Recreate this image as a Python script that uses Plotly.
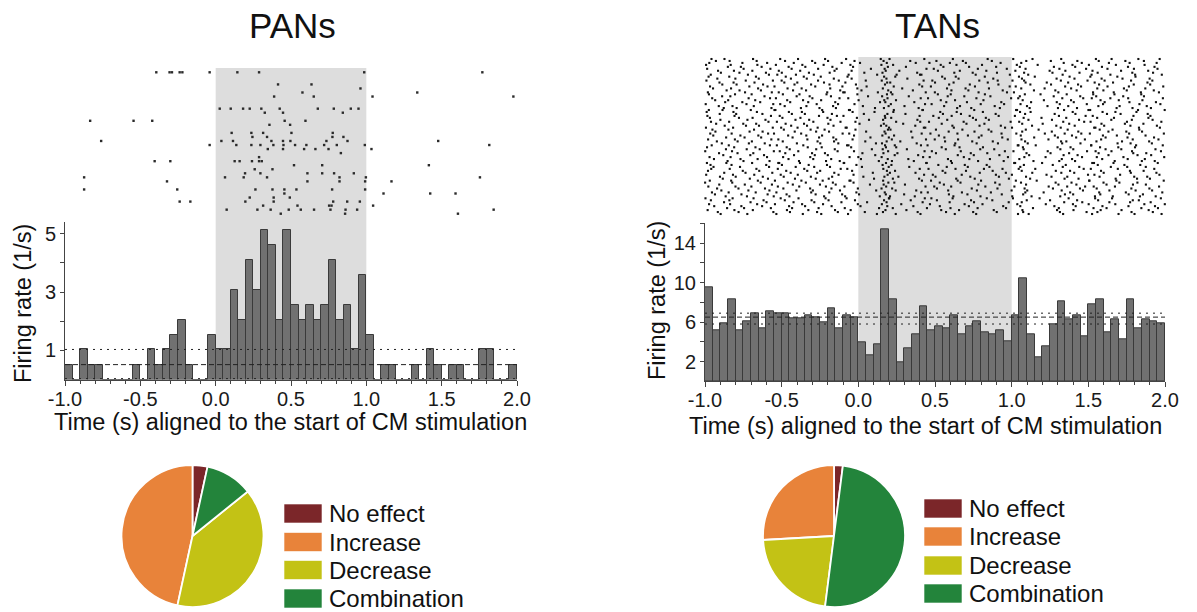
import numpy as np
import plotly.graph_objects as go

W, H = 1197, 612
FONT = "Liberation Sans, Arial, sans-serif"

# ---------------- data ----------------
bin_width = 0.05
bin_starts = np.round(np.arange(-1.0, 2.0 - 1e-9, bin_width), 3)   # 60 bins, -1.0 .. 1.95

pan_rates = [0.51, 0, 1.03, 0.51, 0.51, 0, 0, 0, 0, 0.51,
             0, 1.03, 0.51, 1.03, 1.54, 2.05, 0.51, 0, 0, 1.54,
             1.03, 1.03, 3.08, 2.05, 4.10, 3.08, 5.13, 4.62, 2.05, 5.13,
             2.56, 2.05, 2.56, 2.05, 2.56, 4.10, 2.05, 2.56, 1.03, 3.59,
             1.54, 0, 0.51, 0.51, 0, 0, 0.51, 0, 1.03, 0.51,
             0, 0.51, 0.51, 0, 0, 1.03, 1.03, 0, 0, 0.51]

tan_rates = [9.5, 5.2, 5.9, 8.35, 5.2, 6.1, 6.9, 5.4, 7.06, 6.9,
             6.9, 6.35, 6.35, 6.7, 6.5, 5.95, 7.4, 5.4, 6.7, 6.5,
             3.9, 2.6, 3.7, 15.4, 8.35, 1.9, 3.3, 4.8, 7.6, 5.2,
             5.6, 5.4, 6.7, 4.8, 5.6, 6.1, 5.0, 4.8, 5.2, 4.05,
             6.7, 10.4, 4.8, 2.4, 3.5, 5.75, 8.15, 6.3, 6.7, 4.6,
             7.8, 8.35, 5.0, 6.3, 4.25, 8.35, 5.4, 6.3, 6.1, 5.9]

# baseline (lower, mean, upper) lines
pan_baseline = [0.03, 0.51, 1.03]
tan_baseline = [5.8, 6.5, 6.9]

x_ticks = [-1.0, -0.5, 0.0, 0.5, 1.0, 1.5, 2.0]
x_ticktext = ["-1.0", "-0.5", "0.0", "0.5", "1.0", "1.5", "2.0"]
x_minor = [-0.9, -0.8, -0.7, -0.6, -0.4, -0.3, -0.2, -0.1, 0.1, 0.2, 0.3, 0.4,
           0.6, 0.7, 0.8, 0.9, 1.1, 1.2, 1.3, 1.4, 1.6, 1.7, 1.8, 1.9]
pan_yticks = [1, 2, 3, 4, 5]
pan_yticktext = ["1", "", "3", "", "5"]
tan_yticks = [2, 4, 6, 8, 10, 12, 14, 16]
tan_yticktext = ["2", "", "6", "", "10", "", "14", ""]

stim_window = [0.0, 1.0]

# PAN raster: trial rows and spike times (s)
pan_rows = [0, 3, 4, 5, 6, 9, 10, 12, 13, 15, 16, 17, 18, 19, 20, 21, 22, 23, 24,
            25, 26, 27, 29, 30, 31, 32, 33, 34, 35]
pan_spikes = [
    [-0.394, -0.306, -0.290, -0.239, -0.221, -0.040, 0.144, 0.288, 0.986, 1.770],
    [0.414, 0.636],
    [0.961],
    [0.576, 1.338],
    [0.388, 0.651, 1.041, 1.976],
    [0.027, 0.100, 0.182, 0.226, 0.303, 0.425, 0.678, 0.784, 0.897, 0.948],
    [0.326, 0.447, 0.844],
    [-0.833, -0.545, -0.421, 0.458, 0.596],
    [0.357, 0.494],
    [0.106, 0.237, 0.315, 0.503, 0.777],
    [0.244, 0.341, 0.775, 0.848],
    [-0.760, 0.038, 0.115, 0.370, 0.447, 0.496, 0.735, 0.875, 1.477],
    [-0.040, 0.137, 0.237, 0.297, 0.383, 0.450, 0.527, 0.602, 0.720, 0.804, 0.990, 1.816],
    [0.346, 0.447, 0.587, 0.662, 0.749, 1.034],
    [0.831],
    [0.288],
    [-0.405, -0.301, 0.126, 0.159, 0.241, 0.288, 0.306],
    [0.520, 0.707, 1.415],
    [0.259, 0.377],
    [0.195, 0.297, 0.609, 0.707, 0.786, 0.917],
    [-0.873, 0.062, 0.186, 0.341, 0.822, 0.997, 1.754],
    [-0.323, 0.609, 0.822, 0.992, 1.167],
    [-0.873, -0.255, 0.264, 0.377, 0.456, 0.536, 0.773, 0.992],
    [0.456, 1.114, 1.424, 1.592],
    [0.226, 0.385, 0.492],
    [-0.239, -0.168, 0.197, 0.385, 0.780, 0.873, 0.957],
    [0.315, 0.543, 0.753, 0.769, 1.045],
    [0.073, 0.277, 0.365, 0.485, 0.565, 0.653, 0.762, 0.862, 0.939, 1.845],
    [0.432, 0.859, 1.608],
]
pan_n_rows = 36

# TAN raster: dots too dense to transcribe one by one; each bin gets the number
# of spikes implied by its rate (rate * bin * trials), spread evenly over trials
# and within the bin with a deterministic low-discrepancy (Halton) layout.
tan_trials = 80

pie_labels = ["No effect", "Increase", "Decrease", "Combination"]
pie_colors = ["#7B2629", "#E8833A", "#C3C215", "#23843B"]
pan_pie = [3.4, 46.6, 39.2, 10.8]
tan_pie = [2.0, 25.9, 22.1, 50.0]

# ---------------- helpers ----------------
def fx(px):
    return px / W

def fy(py):
    return 1 - py / H

def halton(i, base):
    f, r = 1.0, 0.0
    while i > 0:
        f /= base
        r += f * (i % base)
        i //= base
    return r

# ---------------- figure ----------------
fig = go.Figure()

bin_centers = bin_starts + bin_width / 2
bar_style = dict(marker=dict(color="#717171", line=dict(color="#3a3a3a", width=1)),
                 width=bin_width, showlegend=False, hoverinfo="x+y")

fig.add_trace(go.Bar(x=bin_centers, y=pan_rates, xaxis="x", yaxis="y", **bar_style))
fig.add_trace(go.Bar(x=bin_centers, y=tan_rates, xaxis="x3", yaxis="y3", **bar_style))

dash_styles = ["2px,5px", "5px,3px", "2px,5px"]
for val, d in zip(pan_baseline, dash_styles):
    fig.add_trace(go.Scatter(x=[x_ticks[0], x_ticks[-1]], y=[val, val], mode="lines",
                             line=dict(color="#222", width=1, dash=d),
                             xaxis="x", yaxis="y", showlegend=False, hoverinfo="skip"))
for val, d in zip(tan_baseline, dash_styles):
    fig.add_trace(go.Scatter(x=[x_ticks[0], x_ticks[-1]], y=[val, val], mode="lines",
                             line=dict(color="#222", width=1, dash=d),
                             xaxis="x3", yaxis="y3", showlegend=False, hoverinfo="skip"))

# PAN raster
rx, ry = [], []
for row, spikes in zip(pan_rows, pan_spikes):
    for t in spikes:
        rx.append(t)
        ry.append(row)
fig.add_trace(go.Scatter(x=rx, y=ry, mode="markers", xaxis="x2", yaxis="y2",
                         marker=dict(symbol="square", size=2.4, color="#2a2a2a"),
                         cliponaxis=False, showlegend=False, hoverinfo="x"))

# TAN raster
tx, ty = [], []
k = 0
for start, rate in zip(bin_starts, tan_rates):
    n = int(round(rate * bin_width * tan_trials))
    for j in range(n):
        k += 1
        tx.append(start + bin_width * halton(k, 2))
        ty.append(int(halton(k, 3) * tan_trials))
fig.add_trace(go.Scatter(x=tx, y=ty, mode="markers", xaxis="x4", yaxis="y4",
                         marker=dict(symbol="square", size=2.1, color="#111"),
                         cliponaxis=False, showlegend=False, hoverinfo="x"))

# Pies
def pie(values, cx, cy, r):
    return go.Pie(labels=pie_labels, values=values, sort=False, direction="counterclockwise",
                  rotation=0, textinfo="none", showlegend=False, automargin=False,
                  marker=dict(colors=pie_colors, line=dict(color="white", width=1.8)),
                  domain=dict(x=[fx(cx - r), fx(cx + r)], y=[fy(cy + r), fy(cy - r)]))

fig.add_trace(pie(pan_pie, 192.5, 536, 71))
fig.add_trace(pie(tan_pie, 834, 536, 71))

# ---------------- axes ----------------
tickfont = dict(family=FONT, size=20, color="#1a1a1a")
common_x = dict(range=[-1.0, 2.0], tickmode="array", tickvals=x_ticks, ticktext=x_ticktext,
                ticks="outside", ticklen=5, tickcolor="#444", showline=True, linecolor="#444",
                linewidth=1, showgrid=False, zeroline=False, tickfont=tickfont, automargin=False,
                ticklabelstandoff=-4,
                minor=dict(tickvals=x_minor, ticks="outside", ticklen=3, tickcolor="#444"))
common_y = dict(ticks="outside", ticklen=4, tickcolor="#444", showline=True, linecolor="#444",
                linewidth=1, showgrid=False, zeroline=False, tickfont=tickfont, tickmode="array",
                automargin=False)
hidden = dict(visible=False, showgrid=False, zeroline=False, automargin=False)

fig.update_layout(
    template="none",
    xaxis=dict(domain=[fx(65), fx(517)], anchor="y", **common_x),
    yaxis=dict(domain=[fy(379.5), fy(222)], anchor="x", range=[0, 5.4],
               tickvals=pan_yticks, ticktext=pan_yticktext, **common_y),
    xaxis2=dict(domain=[fx(65), fx(517)], anchor="y2", range=[-1.0, 2.0], **hidden),
    yaxis2=dict(domain=[fy(213.7), fy(72.3)], anchor="x2", range=[pan_n_rows - 1, 0], **hidden),
    xaxis3=dict(domain=[fx(705), fx(1165)], anchor="y3", **common_x),
    yaxis3=dict(domain=[fy(381.3), fy(223.3)], anchor="x3", range=[0, 16],
                tickvals=tan_yticks, ticktext=tan_yticktext, **common_y),
    xaxis4=dict(domain=[fx(705), fx(1165)], anchor="y4", range=[-1.0, 2.0], **hidden),
    yaxis4=dict(domain=[fy(214), fy(59)], anchor="x4", range=[tan_trials - 1, 0], **hidden),
)

# stimulation shading
fig.add_shape(type="rect", xref="x", yref="paper", x0=stim_window[0], x1=stim_window[1],
              y0=fy(379.5), y1=fy(68), fillcolor="#DDDDDD", line=dict(width=0), layer="below")
fig.add_shape(type="rect", xref="x3", yref="paper", x0=stim_window[0], x1=stim_window[1],
              y0=fy(381.3), y1=fy(57), fillcolor="#DDDDDD", line=dict(width=0), layer="below")

# ---------------- text ----------------
ann = []
def text(t, x, y, size, angle=0, xanchor="center"):
    ann.append(dict(text=t, x=fx(x), y=fy(y), xref="paper", yref="paper", showarrow=False,
                    xanchor=xanchor, yanchor="middle", textangle=angle,
                    font=dict(family=FONT, size=size, color="#111")))

text("PANs", 292, 26, 35)
text("TANs", 937, 26, 35)
text("Time (s) aligned to the start of CM stimulation", 290.5, 422, 23.5)
text("Time (s) aligned to the start of CM stimulation", 925, 426, 23.5)
text("Firing rate (1/s)", 23, 304, 23.5, angle=-90)
text("Firing rate (1/s)", 657, 301, 23.5, angle=-90)

# manual legends beside the pies
pan_leg_rows = [513.5, 542, 570, 598.5]
tan_leg_rows = [508.5, 536.5, 565.5, 593.5]
for rows, x0 in ((pan_leg_rows, 284), (tan_leg_rows, 924)):
    for lab, col, yc in zip(pie_labels, pie_colors, rows):
        fig.add_shape(type="rect", xref="paper", yref="paper",
                      x0=fx(x0), x1=fx(x0 + 38), y0=fy(yc + 9.5), y1=fy(yc - 9.5),
                      fillcolor=col, line=dict(color="rgba(255,255,255,0.6)", width=1))
        text(lab, x0 + 43, yc, 24, xanchor="left")

fig.update_layout(
    width=W, height=H, autosize=False,
    margin=dict(l=0, r=0, t=0, b=0, pad=0),
    paper_bgcolor="white", plot_bgcolor="rgba(0,0,0,0)",
    bargap=0, barmode="overlay", showlegend=False,
    annotations=ann,
    font=dict(family=FONT),
)

fig.write_html("out.html", config={"displayModeBar": False},
               post_script="document.body.style.margin='0';document.body.style.overflow='hidden';")
